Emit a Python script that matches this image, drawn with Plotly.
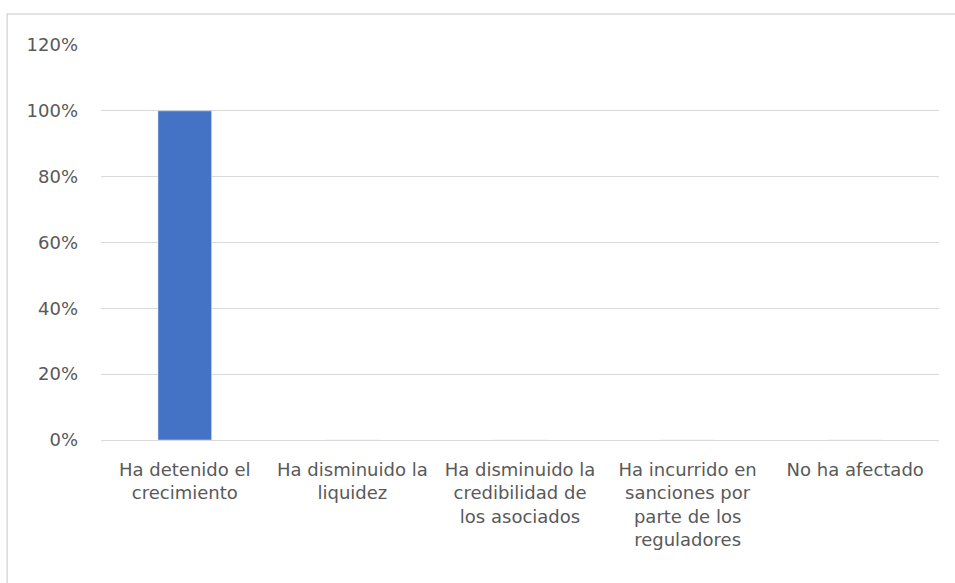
import plotly.graph_objects as go

categories = [
    "Ha detenido el<br>crecimiento",
    "Ha disminuido la<br>liquidez",
    "Ha disminuido la<br>credibilidad de<br>los asociados",
    "Ha incurrido en<br>sanciones por<br>parte de los<br>reguladores",
    "No ha afectado",
]
values = [1.0, 0, 0, 0, 0]
tick_vals = [0, 0.2, 0.4, 0.6, 0.8, 1.0, 1.2]
tick_text = ["0%", "20%", "40%", "60%", "80%", "100%", "120%"]

fig = go.Figure(go.Bar(x=categories, y=values, marker_color="#4472C4", width=0.32))

font = dict(family="DejaVu Sans, sans-serif", size=18, color="#595959")
fig.update_layout(
    width=955, height=583,
    margin=dict(l=101, r=16, t=45, b=143),
    plot_bgcolor="white", paper_bgcolor="white",
    font=font, showlegend=False,
    xaxis=dict(showgrid=False, showline=False, ticks="", tickangle=0,
               ticklabelstandoff=17),
    yaxis=dict(range=[0, 1.2], tickvals=tick_vals, ticktext=tick_text,
               showgrid=True, gridcolor="#d9d9d9", gridwidth=1,
               zeroline=True, zerolinecolor="#d9d9d9", zerolinewidth=1,
               showline=False, ticks="", ticklabelstandoff=22),
    shapes=[dict(type="path", xref="paper", yref="paper",
                 path="M -0.112 -0.4 L -0.112 1.0785 L 1.03 1.0785",
                 line=dict(color="#d9d9d9", width=1.5))],
)
fig.write_html("out.html")
